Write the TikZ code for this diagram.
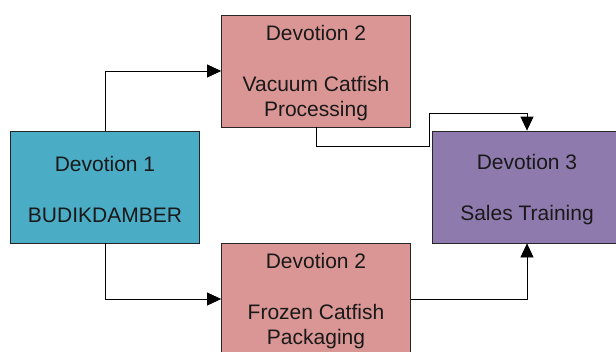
\documentclass[tikz,border=0pt]{standalone}
\usepackage{fontspec}
\setmainfont{Liberation Sans}
\usetikzlibrary{arrows.meta}
\definecolor{boxblue}{HTML}{4BACC6}
\definecolor{boxpink}{HTML}{D99694}
\definecolor{boxpurple}{HTML}{8E7AAD}
% raises the first line so the text block sits a little lower in its box
\newcommand{\toplift}{\rule{0pt}{19.5pt}}
\begin{document}
\begin{tikzpicture}[x=1pt,y=-1pt,
  stage/.style={draw=black!85,line width=0.8pt,minimum width=189pt,minimum height=112pt,
    inner sep=0pt,align=center,text=black!90,font=\fontsize{21}{25.5}\selectfont},
  link/.style={draw=black,line width=0.8pt,-{Triangle[length=14pt,width=13pt]}}]
\useasboundingbox (0,0) rectangle (616,351);
\clip (0,0) rectangle (616,351);
\fill[white] (0,0) rectangle (616,351);
% stages
\node[stage,fill=boxblue]   (d1) at (105,187) {\toplift Devotion 1\\[25.5pt]BUDIKDAMBER};
\node[stage,fill=boxpink]   (v)  at (316,71)  {\toplift Devotion 2\\[25.5pt]Vacuum Catfish\\Processing};
\node[stage,fill=boxpink]   (f)  at (316,299) {\toplift Devotion 2\\[25.5pt]Frozen Catfish\\Packaging};
\node[stage,fill=boxpurple] (d3) at (527,187) {\toplift Devotion 3\\[25.5pt]Sales Training};
% connectors
\draw[link] (d1.north) |- (v.west);
\draw[link] (d1.south) |- (f.west);
\draw[link] (f.east) -| (d3.south);
\draw[link] (v.south) -- ++(0,19) -- ++(113,0) -- ++(0,-33) -| (d3.north);
\end{tikzpicture}
\end{document}
